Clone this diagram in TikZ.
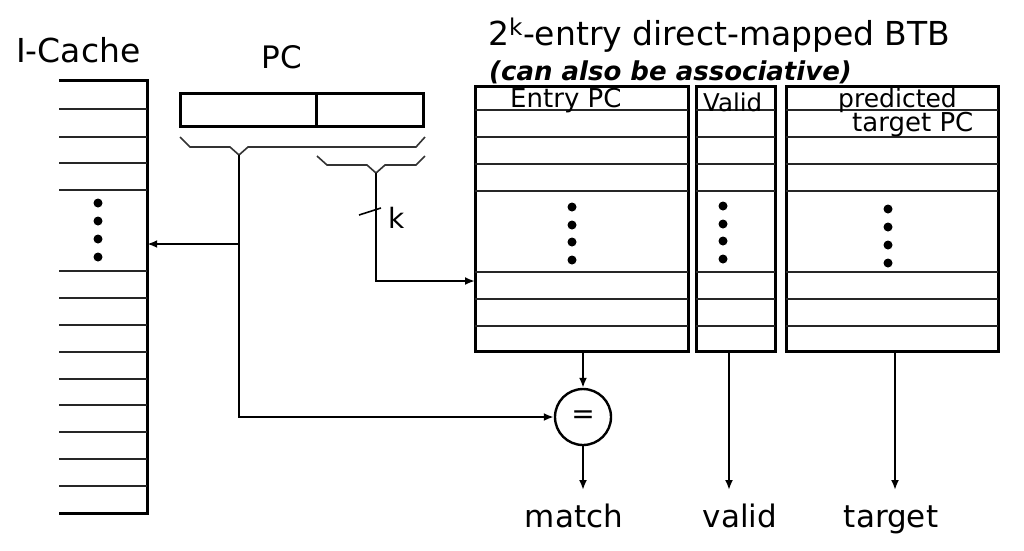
\documentclass[tikz,border=0pt]{standalone}
\usepackage{fontspec}
\setmainfont{DejaVu Sans}
\usetikzlibrary{arrows.meta}
\begin{document}
\begin{tikzpicture}[x=1pt,y=-1pt,
  box/.style={draw, line width=3pt, inner sep=0pt},
  rowline/.style={line width=2.2pt, draw=black!85},
  conn/.style={line width=2.4pt},
  arr/.style={conn, -{Latex[length=10pt,width=8pt]}},
  bracepath/.style={line width=1.6pt, draw=black!80},
  dotmark/.style={circle, fill, inner sep=0pt, minimum size=9pt},
  lbl/.style={inner sep=0pt, anchor=base west},
  clbl/.style={inner sep=0pt, anchor=base}]
\useasboundingbox (0,0) rectangle (1024,550);

% ---------- I-Cache ----------
\node[lbl, font=\fontsize{33}{38}\selectfont] (iclabel) at (16,62) {I-Cache};
\node[minimum width=88pt, minimum height=432pt, inner sep=0pt] (ic) at (103,297) {};
\draw[line width=3pt] (ic.north west) -- (ic.north east) -- (ic.south east) -- (ic.south west);
\foreach \y in {109,137,163,190,271,298,325,352,379,405,432,459,486}
  \draw[rowline] (59,\y) -- (147,\y);
\foreach \y in {203,221,239,257}
  \node[dotmark] at (98,\y) {};

% ---------- PC ----------
\node[clbl, font=\fontsize{31}{36}\selectfont] (pclabel) at (282,68) {PC};
\node[box, minimum width=243pt, minimum height=33pt] (pc) at (301.5,109.5) {};
\draw[line width=3pt] (316,93) -- (316,126);

% braces
\coordinate (b1tip) at (239,155);
\coordinate (b2tip) at (376,173);
\draw[bracepath] (180,137) -- (190,147) -- (230,147) -- (b1tip) -- (248,147) -- (416,147) -- (425,137);
\draw[bracepath] (317,156) -- (327,165) -- (367,165) -- (b2tip) -- (385,165) -- (416,165) -- (425,156);

% ---------- BTB ----------
\node[lbl, font=\fontsize{33}{38}\selectfont] (title) at (488,45) {2\textsuperscript{k}-entry direct-mapped BTB};
\node[lbl, font=\fontsize{26}{30}\selectfont\bfseries\itshape] (subtitle) at (489,80) {(can also be associative)};

\node[box, minimum width=213pt, minimum height=265pt] (epc) at (581.5,218.5) {};
\node[box, minimum width=79pt, minimum height=265pt] (vbox) at (735.5,218.5) {};
\node[box, minimum width=212pt, minimum height=265pt] (tbox) at (892,218.5) {};

\foreach \y in {110,137,164,191,272,299,326} {
  \draw[rowline] (475,\y) -- (688,\y);
  \draw[rowline] (696,\y) -- (775,\y);
  \draw[rowline] (786,\y) -- (998,\y);
}
\foreach \y in {207,225,242,260} \node[dotmark] at (572,\y) {};
\foreach \y in {206,224,241,259} \node[dotmark] at (723,\y) {};
\foreach \y in {209,227,245,263} \node[dotmark] at (888,\y) {};

\node[lbl, font=\fontsize{26}{30}\selectfont] (epclbl) at (510,107) {Entry PC};
\node[lbl, font=\fontsize{24.5}{28}\selectfont] (vlbl) at (703,111) {Valid};
\node[lbl, font=\fontsize{25}{28}\selectfont] (plbl) at (838,107) {predicted};
\node[lbl, font=\fontsize{26}{28}\selectfont] (tpclbl) at (852,131) {target PC};

% ---------- comparator ----------
\node[draw, circle, line width=2.4pt, minimum size=56pt, inner sep=0pt,
      font=\fontsize{28}{30}\selectfont] (eq) at (583,417) {=};

% ---------- connectors ----------
\coordinate (br) at (239,244);
\draw[arr] (b1tip) |- (eq.west);
\draw[arr] (br) -- (br -| ic.east);

\coordinate (kin) at (475,281);
\draw[arr] (b2tip) |- (kin);
\draw[line width=1.6pt] (359,215) -- (381,208);
\node[lbl, font=\fontsize{28}{30}\selectfont] (klbl) at (388,228) {k};

\coordinate (mend) at (583,490);
\coordinate (vend) at (729,490);
\coordinate (tend) at (895,490);
\draw[arr] (epc.south -| eq.north) -- (eq.north);
\draw[arr] (eq.south) -- (mend);
\draw[arr] (vbox.south -| vend) -- (vend);
\draw[arr] (tbox.south -| tend) -- (tend);

\node[clbl, font=\fontsize{31}{36}\selectfont] (match) at (574,527) {match};
\node[clbl, font=\fontsize{31}{36}\selectfont] (valid) at (740,527) {valid};
\node[clbl, font=\fontsize{31}{36}\selectfont] (target) at (891,527) {target};
\end{tikzpicture}
\end{document}
